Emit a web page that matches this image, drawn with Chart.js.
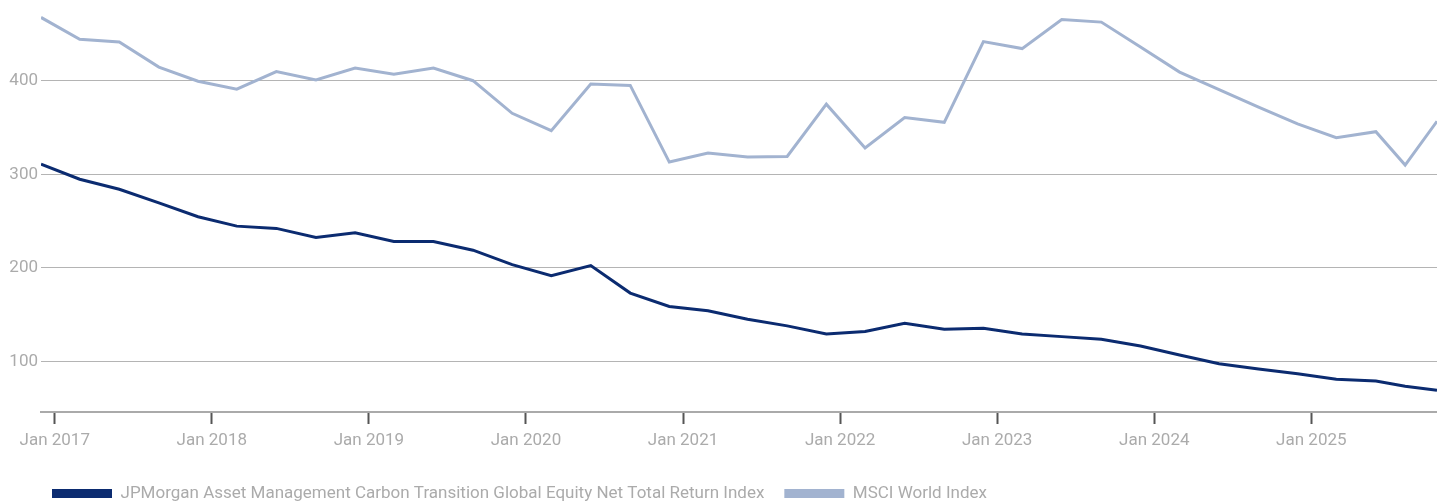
<!DOCTYPE html>
<html>
<head>
<meta charset="utf-8">
<script src="https://cdn.jsdelivr.net/npm/chart.js@4"></script>
<style>
  html, body { margin: 0; padding: 0; background: #fff; }
  #wrap { width: 1437px; height: 502px; }
</style>
</head>
<body>
<div id="wrap"><canvas id="lineChart"></canvas></div>
<script>
// Quarterly observation dates (last two are the latest readings)
const dates = [
  '2016-11-30', '2017-02-28', '2017-05-31', '2017-08-31', '2017-11-30',
  '2018-02-28', '2018-05-31', '2018-08-31', '2018-11-30',
  '2019-02-28', '2019-05-31', '2019-08-31', '2019-11-30',
  '2020-02-29', '2020-05-31', '2020-08-31', '2020-11-30',
  '2021-02-28', '2021-05-31', '2021-08-31', '2021-11-30',
  '2022-02-28', '2022-05-31', '2022-08-31', '2022-11-30',
  '2023-02-28', '2023-05-31', '2023-08-31', '2023-11-30',
  '2024-02-29', '2024-05-31', '2024-08-31', '2024-11-30',
  '2025-02-28', '2025-05-31', '2025-08-07', '2025-10-20'
];

const jpmValues = [
  310.9, 294.8, 284.1, 269.5, 254.7, 244.7, 242.3, 232.6, 237.6, 228.3,
  228.3, 219.0, 203.6, 191.8, 202.6, 173.2, 158.9, 154.3, 145.3, 138.2,
  129.6, 132.1, 141.0, 134.6, 135.6, 129.6, 126.7, 123.8, 116.7, 107.1,
  97.8, 92.1, 87.0, 81.3, 79.2, 73.8, 69.5
];

const msciValues = [
  467.6, 444.3, 441.4, 414.6, 399.5, 391.0, 409.7, 400.7, 413.5, 407.0,
  413.5, 400.0, 365.2, 346.7, 396.4, 395.0, 313.1, 322.7, 318.5, 319.1,
  374.9, 328.1, 360.6, 355.6, 441.8, 434.3, 465.4, 462.6, 436.0, 409.2,
  390.5, 371.7, 353.9, 339.2, 345.6, 309.9, 356.7
];

const seriesNames = [
  'JPMorgan Asset Management Carbon Transition Global Equity Net Total Return Index',
  'MSCI World Index'
];

const xTickYears = [2017, 2018, 2019, 2020, 2021, 2022, 2023, 2024, 2025];
const yTickValues = [100, 200, 300, 400];

// date string -> fractional year, so the linear x scale spaces points by time
function toYear(s) {
  const d = new Date(s + 'T00:00:00Z');
  const y = d.getUTCFullYear();
  const start = Date.UTC(y, 0, 1);
  const end = Date.UTC(y + 1, 0, 1);
  return y + (d.getTime() - start) / (end - start);
}

const xs = dates.map(toYear);
const toPoints = vals => vals.map((v, i) => ({ x: xs[i], y: v }));

const FONT = "Roboto, 'DejaVu Sans Condensed', sans-serif";
const FONT_SIZE = 17;
const GREY = '#ababab';

// put the legend where the reference has it
const legendPlacer = {
  id: 'legendPlacer',
  afterLayout(chart) {
    const lg = chart.legend;
    if (!lg) return;
    const h = lg.bottom - lg.top;
    lg.left = 32;
    lg.top = 465;
    lg.bottom = 465 + h;
  }
};

const ctx = document.getElementById('lineChart').getContext('2d');
const chart = new Chart(ctx, {
  type: 'line',
  data: {
    datasets: [
      {
        label: seriesNames[0],
        data: toPoints(jpmValues),
        borderColor: '#0b2b70',
        backgroundColor: '#0b2b70',
        borderWidth: 3,
        pointRadius: 0,
        tension: 0
      },
      {
        label: seriesNames[1],
        data: toPoints(msciValues),
        borderColor: '#a2b3d0',
        backgroundColor: '#a2b3d0',
        borderWidth: 3,
        pointRadius: 0,
        tension: 0
      }
    ]
  },
  options: {
    responsive: true,
    maintainAspectRatio: false,
    animation: false,
    layout: { padding: 0 },
    plugins: {
      tooltip: { enabled: false },
      legend: {
        position: 'bottom',
        align: 'start',
        labels: {
          boxWidth: 60,
          boxHeight: 9,
          padding: 20,
          color: GREY,
          font: { family: FONT, size: FONT_SIZE },
          generateLabels(c) {
            return c.data.datasets.map((ds, i) => ({
              text: ds.label,
              fillStyle: ds.borderColor,
              strokeStyle: ds.borderColor,
              fontColor: GREY,
              lineWidth: 0,
              hidden: false,
              datasetIndex: i
            }));
          }
        }
      }
    },
    scales: {
      x: {
        type: 'linear',
        min: xs[0],
        max: xs[xs.length - 1],
        afterBuildTicks(scale) {
          scale.ticks = xTickYears.map(v => ({ value: v }));
        },
        afterFit(scale) {
          scale.height = 43;
          scale.paddingLeft = 0;
          scale.paddingRight = 0;
        },
        grid: {
          drawOnChartArea: false,
          drawTicks: true,
          tickLength: 12,
          tickColor: '#555',
          tickWidth: 2
        },
        border: { display: true, color: '#aaa', width: 2 },
        ticks: {
          autoSkip: false,
          maxRotation: 0,
          padding: 7,
          color: GREY,
          font: { family: FONT, size: FONT_SIZE },
          callback: v => 'Jan ' + v
        }
      },
      y: {
        min: 46.2,
        max: 486.2,
        afterBuildTicks(scale) {
          scale.ticks = yTickValues.map(v => ({ value: v }));
        },
        afterFit(scale) {
          scale.width = 41;
          scale.paddingTop = 0;
          scale.paddingBottom = 0;
        },
        grid: {
          drawTicks: false,
          color: '#b4b4b4',
          lineWidth: 1
        },
        border: { display: false },
        ticks: {
          padding: 3,
          color: GREY,
          font: { family: FONT, size: FONT_SIZE }
        }
      }
    }
  },
  plugins: [legendPlacer]
});
</script>
</body>
</html>
